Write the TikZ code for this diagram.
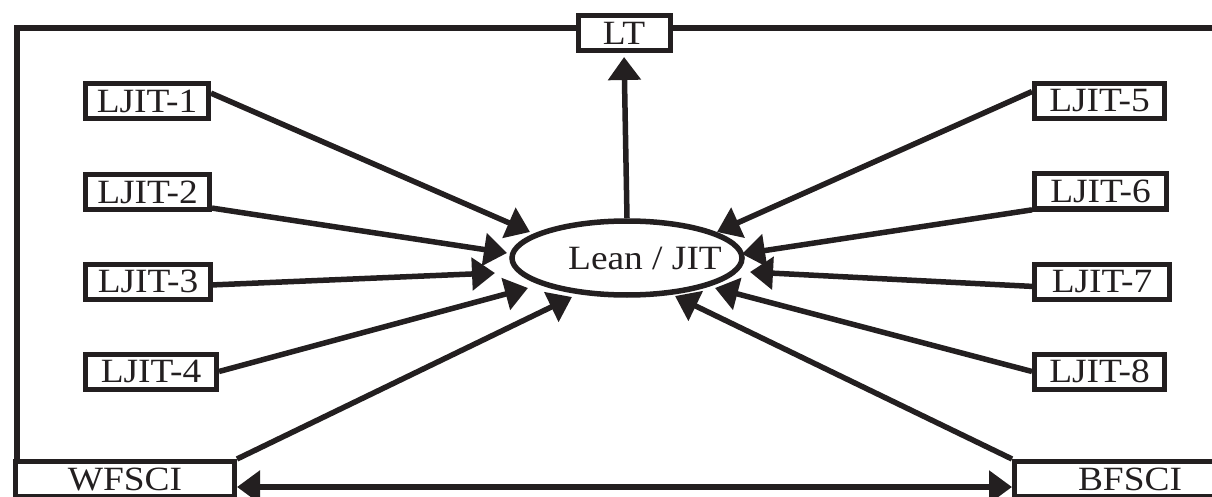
\documentclass[tikz,border=0pt]{standalone}
\usepackage{fontspec}
\setmainfont{Liberation Serif}[FakeStretch=1.1]
\usetikzlibrary{arrows.meta,shapes.geometric,calc}
\definecolor{ink}{RGB}{35,31,32}
\begin{document}
\begin{tikzpicture}[x=1pt,y=-1pt,
  lbl/.style={font=\fontsize{34}{34}\selectfont,text=ink},
  box/.style={lbl,draw=ink,line width=5pt,fill=white,inner sep=0pt,minimum height=35pt},
  oval/.style={lbl,ellipse,draw=ink,line width=5.5pt,fill=white,inner sep=0pt,minimum width=230pt,minimum height=74pt},
  arr/.style={draw=ink,line width=5.5pt,-{Triangle[length=23pt,width=32pt]}},
  dblarr/.style={draw=ink,line width=5.5pt,{Triangle[length=23pt,width=32pt]}-{Triangle[length=23pt,width=32pt]}},
  frame/.style={draw=ink,line width=5.5pt,line join=miter}]
\useasboundingbox (0,0) rectangle (1212,497);

% boxes
\node[box,minimum width=123pt] (l1) at (147,101) {LJIT-1};
\node[box,minimum width=124pt] (l2) at (147.5,192) {LJIT-2};
\node[box,minimum width=125pt] (l3) at (148,281.5) {LJIT-3};
\node[box,minimum width=131pt] (l4) at (151,371.5) {LJIT-4};
\node[box,minimum width=130pt] (l5) at (1099.5,101) {LJIT-5};
\node[box,minimum width=132pt] (l6) at (1100.5,191.5) {LJIT-6};
\node[box,minimum width=135pt] (l7) at (1102,281.5) {LJIT-7};
\node[box,minimum width=130pt] (l8) at (1099.5,371.5) {LJIT-8};
\node[box,minimum width=92pt] (lt) at (624,33) {LT};
\node[box,minimum width=219pt] (wf) at (125,479) {WFSCI};
\node[box,minimum width=231pt] (bf) at (1130,479) {BFSCI};
\node[oval] (ell) at (627,258) {\makebox[0pt]{\hspace{36pt}Lean / JIT}};

% arrow tips near the ellipse
\coordinate (t1) at (530,232);
\coordinate (t2) at (507,253);
\coordinate (t3) at (495,273);
\coordinate (t4) at (528,288);
\coordinate (t5) at (717,232);
\coordinate (t6) at (742,254);
\coordinate (t7) at (750,272);
\coordinate (t8) at (715,288);
\coordinate (tw) at (572,297);
\coordinate (tb) at (675,296);

% frame line
\draw[frame] ($(lt.west)+(0,-5)$) -| ($(wf.north west)+(4,0)$);
\draw[frame] ($(lt.east)+(0,-5)$) -- (1220,28);

% arrows
\draw[arr] (l1.7) -- (t1);
\draw[arr] (l2.-14) -- (t2);
\draw[arr] (l3.-3) -- (t3);
\draw[arr] (l4.east) -- (t4);
\draw[arr] (l5.172) -- (t5);
\draw[arr] (l6.195) -- (t6);
\draw[arr] (l7.184) -- (t7);
\draw[arr] (l8.west) -- (t8);
\draw[arr] (wf.north east) -- (tw);
\draw[arr] (bf.north west) -- (tb);
\draw[arr,shorten >=4pt] (ell.north) -- (lt.south);
\draw[dblarr] ($(wf.east)+(0,8)$) -- ($(bf.west)+(0,8)$);
\end{tikzpicture}
\end{document}
